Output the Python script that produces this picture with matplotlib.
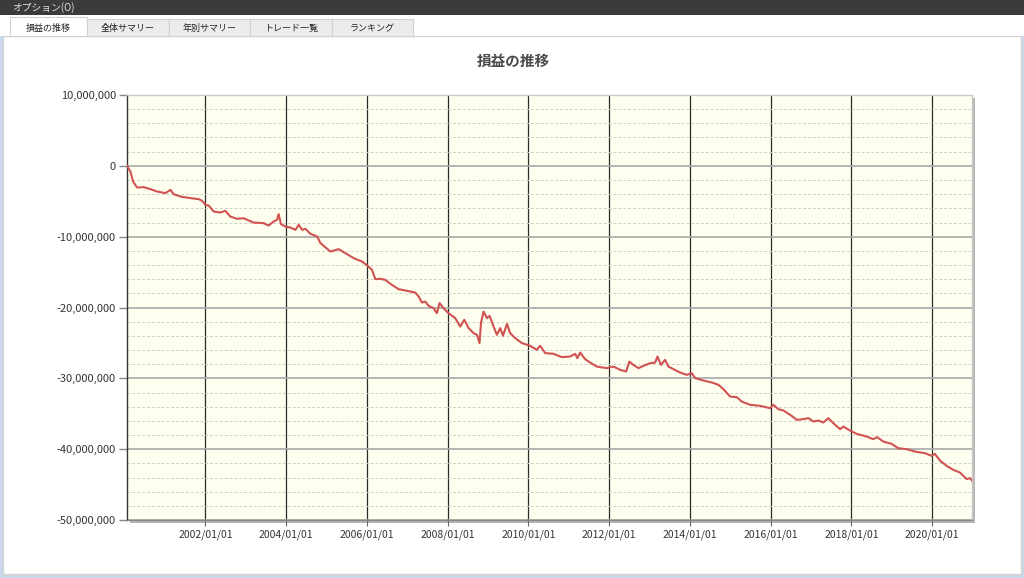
"""損益の推移 — バックテスト結果画面の再現。"""

import matplotlib

matplotlib.use("Agg")
import matplotlib.pyplot as plt
import matplotlib.dates as mdates
import matplotlib.ticker as mticker
from matplotlib.patches import Rectangle
import pandas as pd

plt.rcParams["font.family"] = ["Noto Sans CJK JP", "DejaVu Sans"]
plt.rcParams["axes.unicode_minus"] = False

# ── データ (画像から読み取り, 単位: 百万円) ─────────────────────────

DATES = [
    "2000-01-22", "2000-02-22", "2000-03-17", "2000-04-22", "2000-06-21", "2000-08-21",
    "2000-10-21", "2001-01-04", "2001-02-18", "2001-03-19", "2001-05-19", "2001-08-18",
    "2001-11-01", "2001-12-02", "2002-01-01", "2002-01-31", "2002-03-16", "2002-05-16",
    "2002-06-30", "2002-08-14", "2002-10-14", "2002-12-12", "2003-03-13", "2003-06-11",
    "2003-07-26", "2003-09-10", "2003-10-10", "2003-10-25", "2003-11-15", "2003-12-25",
    "2004-02-08", "2004-03-25", "2004-04-24", "2004-05-25", "2004-06-23", "2004-08-08",
    "2004-10-08", "2004-11-06", "2005-02-05", "2005-04-20", "2005-06-20", "2005-09-03",
    "2005-11-18", "2006-01-07", "2006-02-16", "2006-03-18", "2006-05-02", "2006-06-16",
    "2006-08-15", "2006-10-14", "2006-12-29", "2007-03-15", "2007-04-14", "2007-05-14",
    "2007-06-13", "2007-07-13", "2007-08-27", "2007-09-26", "2007-10-20", "2007-11-24",
    "2008-01-09", "2008-03-10", "2008-04-24", "2008-05-31", "2008-07-09", "2008-08-23",
    "2008-09-23", "2008-10-16", "2008-10-29", "2008-11-21", "2008-12-22", "2009-01-15",
    "2009-02-14", "2009-03-22", "2009-04-21", "2009-05-16", "2009-06-21", "2009-07-20",
    "2009-09-04", "2009-11-04", "2010-01-18", "2010-03-18", "2010-04-17", "2010-06-02",
    "2010-08-16", "2010-10-31", "2011-01-14", "2011-02-28", "2011-03-20", "2011-04-14",
    "2011-05-29", "2011-07-13", "2011-09-12", "2011-12-12", "2012-02-10", "2012-04-10",
    "2012-06-03", "2012-07-03", "2012-08-08", "2012-09-23", "2012-11-07", "2013-01-07",
    "2013-02-21", "2013-03-14", "2013-04-14", "2013-05-22", "2013-06-21", "2013-08-05",
    "2013-10-05", "2013-12-05", "2014-01-19", "2014-02-18", "2014-05-04", "2014-07-18",
    "2014-09-17", "2014-11-01", "2014-12-31", "2015-03-02", "2015-04-16", "2015-06-30",
    "2015-09-28", "2015-12-27", "2016-01-26", "2016-03-12", "2016-04-27", "2016-06-27",
    "2016-08-26", "2016-10-25", "2016-12-09", "2017-01-23", "2017-03-09", "2017-04-23",
    "2017-06-07", "2017-07-22", "2017-09-21", "2017-10-21", "2017-12-20", "2018-02-19",
    "2018-05-20", "2018-07-18", "2018-08-23", "2018-10-17", "2019-01-01", "2019-03-02",
    "2019-05-17", "2019-07-31", "2019-10-29", "2019-12-28", "2020-01-27", "2020-03-13",
    "2020-05-13", "2020-07-12", "2020-09-10", "2020-11-10", "2020-12-10", "2020-12-28",
]

PNL_MILLION = [
    0.00, -0.80, -2.22, -3.06, -3.01, -3.29,
    -3.63, -3.85, -3.39, -4.00, -4.33, -4.56,
    -4.70, -4.94, -5.51, -5.61, -6.45, -6.59,
    -6.35, -7.16, -7.48, -7.40, -8.01, -8.09,
    -8.43, -7.86, -7.62, -6.82, -8.23, -8.57,
    -8.71, -9.04, -8.33, -9.04, -8.89, -9.60,
    -9.98, -10.91, -12.10, -11.76, -12.33, -13.03,
    -13.51, -14.12, -14.68, -16.00, -15.95, -16.10,
    -16.80, -17.41, -17.65, -17.89, -18.45, -19.30,
    -19.16, -19.77, -20.09, -20.80, -19.38, -20.09,
    -20.80, -21.50, -22.69, -21.74, -22.91, -23.62,
    -23.86, -25.03, -22.21, -20.57, -21.50, -21.18,
    -22.45, -23.86, -22.91, -24.00, -22.31, -23.62,
    -24.33, -25.03, -25.41, -25.98, -25.40, -26.44,
    -26.54, -27.01, -26.92, -26.54, -27.15, -26.36,
    -27.29, -27.77, -28.34, -28.56, -28.34, -28.80,
    -29.04, -27.63, -28.10, -28.56, -28.24, -27.86,
    -27.77, -26.92, -28.10, -27.39, -28.34, -28.70,
    -29.18, -29.51, -29.27, -29.97, -30.31, -30.59,
    -30.92, -31.53, -32.57, -32.66, -33.28, -33.74,
    -33.88, -34.21, -33.74, -34.35, -34.55, -35.15,
    -35.86, -35.76, -35.62, -36.10, -35.96, -36.24,
    -35.62, -36.33, -37.17, -36.81, -37.37, -37.84,
    -38.22, -38.59, -38.30, -38.92, -39.25, -39.86,
    -40.00, -40.34, -40.56, -40.94, -40.66, -41.61,
    -42.36, -42.92, -43.30, -44.23, -44.09, -44.43,
]

TABS = ["損益の推移", "全体サマリー", "年別サマリー", "トレード一覧", "ランキング"]
TITLE = "損益の推移"
MENU = "オプション(O)"

W, H = 1024, 578


def fx(x):
    return x / W


def fy(y):
    return 1 - y / H


def main():
    fig = plt.figure(figsize=(W / 100, H / 100), dpi=100)
    fig.patch.set_facecolor("white")

    # ── ウィンドウ枠 ──
    fig.patches.append(Rectangle((0, 0), 1, 1, transform=fig.transFigure,
                                 facecolor="#c9d8ea", edgecolor="none", zorder=-3))
    fig.patches.append(Rectangle((fx(3), fy(574)), fx(1018), (574 - 36) / H,
                                 transform=fig.transFigure, facecolor="white",
                                 edgecolor="#d4d4d4", linewidth=1, zorder=-2))
    fig.patches.append(Rectangle((0, fy(15)), 1, 15 / H, transform=fig.transFigure,
                                 facecolor="#3b3b3b", edgecolor="none", zorder=-1))
    fig.text(fx(12), fy(11), MENU, fontsize=7, color="#e0e0e0", va="baseline", ha="left")
    fig.patches.append(Rectangle((0, fy(36)), 1, 21 / H, transform=fig.transFigure,
                                 facecolor="white", edgecolor="none", zorder=-1))

    tab_edges = [10, 87, 169, 250, 332, 413]
    for i, label in enumerate(TABS):
        x0, x1 = tab_edges[i], tab_edges[i + 1]
        active = i == 0
        top = 17 if active else 19
        fig.patches.append(Rectangle((fx(x0), fy(36)), fx(x1 - x0), (36 - top) / H,
                                     transform=fig.transFigure,
                                     facecolor="white" if active else "#ececec",
                                     edgecolor="#d0d0d0", linewidth=0.8, zorder=-0.5))
        fig.text(fx((x0 + x1) / 2), fy(31), label, fontsize=6.5, color="#222222",
                 ha="center", va="baseline")

    # 右・下の影
    fig.patches.append(Rectangle((fx(972), fy(523)), fx(3), (523 - 98) / H,
                                 transform=fig.transFigure, facecolor="#b8b8b8",
                                 edgecolor="none", zorder=-0.5))
    fig.patches.append(Rectangle((fx(130), fy(523)), fx(845), 3 / H,
                                 transform=fig.transFigure, facecolor="#b8b8b8",
                                 edgecolor="none", zorder=-0.5))

    # ── チャート本体 ──
    ax = fig.add_axes([fx(127), fy(520), fx(972 - 127), (520 - 95) / H])
    ax.set_zorder(2)
    ax.set_facecolor("#fffff0")

    dates = pd.to_datetime(DATES)
    values = [v * 1e6 for v in PNL_MILLION]
    ax.plot(dates, values, color="#d05252", linewidth=1.5, zorder=5)

    ax.set_xlim(dates[0], dates[-1])
    ax.set_ylim(-50e6, 10e6)

    ax.yaxis.set_major_locator(mticker.MultipleLocator(10e6))
    ax.yaxis.set_minor_locator(mticker.MultipleLocator(2e6))
    ax.yaxis.set_major_formatter(mticker.FuncFormatter(lambda v, p: f"{int(round(v)):,}"))
    ax.xaxis.set_major_locator(mdates.YearLocator(2))
    ax.xaxis.set_major_formatter(mdates.DateFormatter("%Y/%m/%d"))

    ax.grid(True, which="major", axis="y", color="#a8a8a8", linewidth=1.2, zorder=1)
    ax.grid(True, which="minor", axis="y", color="#cfcfcf", linewidth=0.7,
            linestyle=(0, (3, 2)), zorder=1)
    ax.grid(True, which="major", axis="x", color="#2a2a2a", linewidth=0.9, zorder=2)
    ax.set_axisbelow(True)

    ax.tick_params(axis="y", which="major", length=6, width=1, color="#888888",
                   labelsize=8, labelcolor="#333333", pad=2)
    ax.tick_params(axis="y", which="minor", length=0)
    ax.tick_params(axis="x", which="major", length=4, width=0.8, color="#666666",
                   labelsize=7.5, labelcolor="#333333", pad=3)

    ax.spines["left"].set_color("#333333")
    ax.spines["bottom"].set_color("#888888")
    ax.spines["top"].set_color("#c8c8c8")
    ax.spines["right"].set_color("#c8c8c8")
    for side in ("left", "bottom", "top", "right"):
        ax.spines[side].set_linewidth(1)

    fig.text(fx(513), fy(61), TITLE, fontsize=10.5, fontweight="bold",
             color="#4a4a4a", ha="center", va="center")

    fig.savefig("out.png", dpi=100)
    plt.close(fig)


if __name__ == "__main__":
    main()
